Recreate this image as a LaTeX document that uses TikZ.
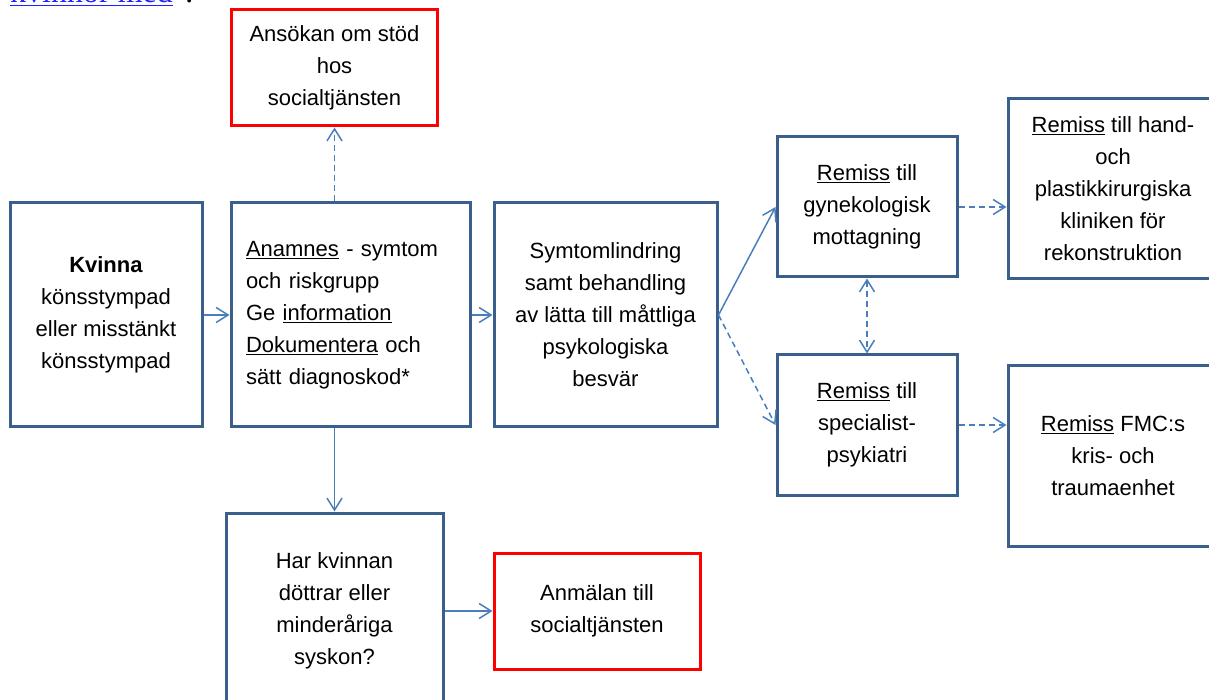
\documentclass[tikz,border=0pt]{standalone}
\usepackage{fontspec}
\setmainfont{Liberation Sans}
\newfontfamily\linkfont{Liberation Serif}
\usetikzlibrary{positioning,arrows.meta}
\newcommand{\boxfont}{\fontsize{22}{32}\selectfont}
\definecolor{boxblue}{HTML}{3B5F8D}
\definecolor{lineblue}{HTML}{4A7EBB}
\definecolor{linkblue}{HTML}{2222FF}
\tikzstyle{block} = [draw=boxblue, line width=3pt, fill=white, rectangle, align=center, font=\boxfont, inner sep=4pt]
\tikzstyle{redblock} = [block, draw=red]
\tikzstyle{line} = [draw=lineblue, line width=1.5pt, ->]
\tikzstyle{dline} = [line, dash pattern=on 6pt off 4pt]

\begin{document}
\begin{tikzpicture}[auto, x=1pt, y=1pt, >={Straight Barb[length=12pt,width=15pt]}]
        \useasboundingbox (0,0) rectangle (1209,699);
        \node [anchor=base west, inner sep=0pt, text=linkblue, font=\linkfont\fontsize{32}{36}\selectfont] (link) at (10,696) {\underline{kvinnor med}\hspace{12pt}\textcolor{black}{:}};

        \node [block, minimum width=192pt, minimum height=224pt] (woman) at (106,384) {\textbf{Kvinna}\\könsstympad\\eller misstänkt\\könsstympad};
        \node [block, align=left, text width=209pt, inner xsep=15pt, minimum height=224pt, right of=woman, node distance=244.5pt] (anamnes) {\underline{Anamnes} - symtom\\och riskgrupp\\Ge \underline{information}\\\underline{Dokumentera} och\\sätt diagnoskod*};
        \node [block, minimum width=223pt, minimum height=224pt, right of=anamnes, node distance=255pt] (symptom) {Symtomlindring\\samt behandling\\av lätta till måttliga\\psykologiska\\besvär};
        \node [redblock, minimum width=206pt, minimum height=116pt, above of=anamnes, node distance=247pt, xshift=-16pt] (apply) {Ansökan om stöd\\hos\\socialtjänsten};
        \node [block, minimum width=217pt, minimum height=196pt, below of=anamnes, node distance=296pt, xshift=-16pt] (daughters) {Har kvinnan\\döttrar eller\\minderåriga\\syskon?};
        \node [redblock, minimum width=206pt, minimum height=116pt, right of=daughters, node distance=262.5pt] (report) {Anmälan till\\socialtjänsten};
        \node [block, minimum width=180pt, minimum height=140pt, right of=symptom, node distance=261.5pt, yshift=108pt] (gyn) {\underline{Remiss} till\\gynekologisk\\mottagning};
        \node [block, minimum width=180pt, minimum height=140pt, below of=gyn, node distance=218pt] (psych) {\underline{Remiss} till\\specialist-\\psykiatri};
        \node [block, minimum width=210pt, minimum height=180pt, right of=gyn, node distance=246pt, yshift=18pt] (hand) {\underline{Remiss} till hand-\\och\\plastikkirurgiska\\kliniken för\\rekonstruktion};
        \node [block, minimum width=210pt, minimum height=180pt, right of=psych, node distance=246pt, yshift=-31pt] (fmc) {\underline{Remiss} FMC:s\\kris- och\\traumaenhet};

        \draw [line] (woman) -- (anamnes);
        \draw [line] (anamnes) -- (symptom);
        \draw [dline] (apply.south |- anamnes.north) -- (apply);
        \draw [line] (daughters.north |- anamnes.south) -- (daughters);
        \draw [line] (daughters) -- (report);
        \draw [line] (symptom.east) -- (gyn.west);
        \draw [dline] (symptom.east) -- (psych.west);
        \draw [dline, <->] (gyn) -- (psych);
        \draw [dline] (gyn.east) -- (gyn.east -| hand.west);
        \draw [dline] (psych.east) -- (psych.east -| fmc.west);
    \end{tikzpicture}
\end{document}
